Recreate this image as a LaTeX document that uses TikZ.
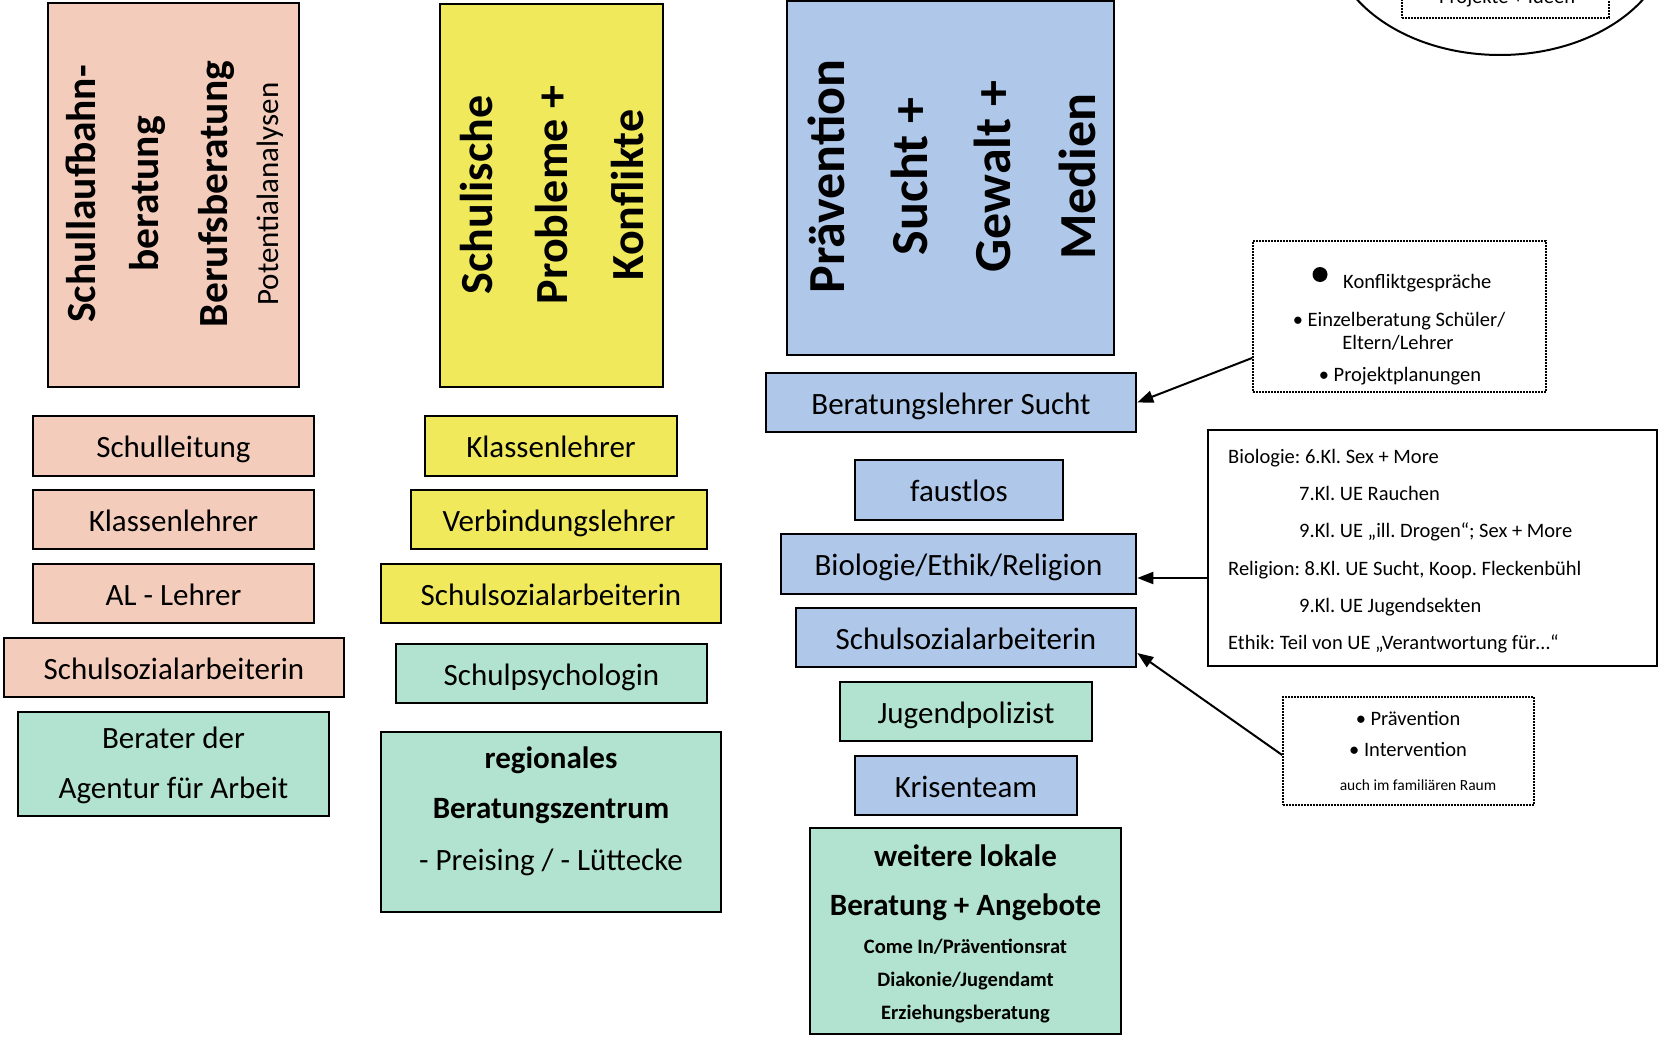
\documentclass[tikz,border=0pt]{standalone}
\usepackage{fontspec}
\setmainfont{Carlito}
\usetikzlibrary{arrows.meta,shapes.geometric}
\definecolor{pinkc}{RGB}{244,204,188}
\definecolor{yellowc}{RGB}{240,233,92}
\definecolor{bluec}{RGB}{175,199,232}
\definecolor{greenc}{RGB}{178,227,209}
\frenchspacing
\begin{document}
\begin{tikzpicture}[x=1pt,y=-1pt,
  box/.style={draw=black, line width=2.5pt, inner sep=0pt, text height=25pt, text depth=2pt,
              font=\fontsize{31}{37}\selectfont},
  pk/.style={box, fill=pinkc},
  yl/.style={box, fill=yellowc},
  bl/.style={box, fill=bluec},
  gr/.style={box, fill=greenc},
  rot/.style={rotate=90, anchor=base, inner sep=0pt},
  ttlp/.style={rot, font=\bfseries\fontsize{41.5}{49}\selectfont},
  ttly/.style={rot, font=\bfseries\fontsize{46}{55}\selectfont},
  ttlb/.style={rot, font=\bfseries\fontsize{52}{62}\selectfont},
  txt/.style={anchor=base, inner sep=0pt, font=\fontsize{31}{37}\selectfont},
  txtb/.style={anchor=base, inner sep=0pt, font=\bfseries\fontsize{31}{37}\selectfont},
  sm/.style={anchor=base, inner sep=0pt, font=\fontsize{20.5}{24}\selectfont},
  smb/.style={anchor=base, inner sep=0pt, font=\bfseries\fontsize{20.5}{24}\selectfont},
  rl/.style={anchor=base west, inner sep=0pt, font=\fontsize{20.5}{24}\selectfont},
  dotbox/.style={draw=black, line width=1.8pt, dash pattern=on 1.6pt off 1.4pt, inner sep=0pt},
  arr/.style={line width=2pt, -{Triangle[length=16pt,width=12pt]}}
]
\useasboundingbox (0,0) rectangle (1661,1036);
\clip (0,0) rectangle (1661,1036);

% ---------- pink column ----------
\node[pk, minimum width=251pt, minimum height=384pt] (p0) at (173.5,195) {};
\node[ttlp] (p0a) at (95,194) {Schullaufbahn-};
\node[ttlp] (p0b) at (158,194) {beratung};
\node[ttlp] (p0c) at (227,194) {Berufsberatung};
\node[rot, font=\fontsize{31}{37}\selectfont] (p0d) at (278,194) {Potentialanalysen};

\node[pk, minimum width=281pt, minimum height=60pt] (p1) at (173.5,446) {Schulleitung};
\node[pk, minimum width=281pt, minimum height=59pt] (p2) at (173.5,519.5) {Klassenlehrer};
\node[pk, minimum width=281pt, minimum height=59pt] (p3) at (173.5,593.5) {AL - Lehrer};
\node[pk, minimum width=340pt, minimum height=59pt] (p4) at (174,667.5) {Schulsozialarbeiterin};
\node[gr, minimum width=311pt, minimum height=104pt] (g1) at (173.5,764) {};
\node[txt] (g1a) at (173.5,748) {Berater der};
\node[txt] (g1b) at (173.5,798) {Agentur für Arbeit};

% ---------- yellow column ----------
\node[yl, minimum width=223pt, minimum height=383pt] (y0) at (551.5,195.5) {};
\node[ttly] (y0a) at (492,195) {Schulische};
\node[ttly] (y0b) at (567,195) {Probleme +};
\node[ttly] (y0c) at (643,195) {Konflikte};

\node[yl, minimum width=252pt, minimum height=60pt] (y1) at (551,446) {Klassenlehrer};
\node[yl, minimum width=296pt, minimum height=59pt] (y2) at (559,519.5) {Verbindungslehrer};
\node[yl, minimum width=340pt, minimum height=59pt] (y3) at (551,593.5) {Schulsozialarbeiterin};
\node[gr, minimum width=311pt, minimum height=59pt] (g2) at (551.5,673.5) {Schulpsychologin};
\node[gr, minimum width=340pt, minimum height=180pt] (g3) at (551,822) {};
\node[txtb] (g3a) at (551,768) {regionales};
\node[txtb] (g3b) at (551,818) {Beratungszentrum};
\node[txt] (g3c) at (551,870) {- Preising / - Lüttecke};

% ---------- blue column ----------
\node[bl, minimum width=327pt, minimum height=354pt] (b0) at (950.5,178) {};
\node[ttlb] (b0a) at (844,176.5) {Prävention};
\node[ttlb] (b0b) at (927,176.5) {Sucht +};
\node[ttlb] (b0c) at (1010,176.5) {Gewalt +};
\node[ttlb] (b0d) at (1095,176.5) {Medien};

\node[bl, minimum width=370pt, minimum height=59pt] (b1) at (951,402.5) {Beratungslehrer Sucht};
\node[bl, minimum width=208pt, minimum height=60pt] (b2) at (959,490) {faustlos};
\node[bl, minimum width=355pt, minimum height=60pt] (b3) at (958.5,564) {Biologie/Ethik/Religion};
\node[bl, minimum width=340pt, minimum height=59pt] (b4) at (966,637.5) {Schulsozialarbeiterin};
\node[gr, minimum width=252pt, minimum height=59pt] (g4) at (966,711.5) {Jugendpolizist};
\node[bl, minimum width=222pt, minimum height=59pt] (b5) at (966,785.5) {Krisenteam};
\node[gr, minimum width=311pt, minimum height=206pt] (g5) at (965.5,931) {};
\node[txtb] (g5a) at (965.5,866) {weitere lokale};
\node[txtb] (g5b) at (965.5,915) {Beratung + Angebote};
\node[smb] (g5c) at (965.5,953) {Come In/Präventionsrat};
\node[smb] (g5d) at (965.5,986) {Diakonie/Jugendamt};
\node[smb] (g5e) at (965.5,1019) {Erziehungsberatung};

% ---------- right side ----------
\node[ellipse, draw=black, line width=2pt, minimum width=340pt, minimum height=242pt, inner sep=0pt] (ell) at (1500,-66) {};
\node[dotbox, minimum width=207pt, minimum height=80pt] (pib) at (1505.5,-22) {};
\node[sm] (pit) at (1507,3) {Projekte + Ideen};

\node[dotbox, minimum width=293pt, minimum height=151pt] (d1) at (1399.5,316.5) {};
\fill (1320,274.5) circle[radius=7.5pt];
\node[anchor=base west, inner sep=0pt, font=\fontsize{20.5}{24}\selectfont] (d1a) at (1343,288) {Konfliktgespräche};
\node[sm] (d1b) at (1399,326) {• Einzelberatung Schüler/};
\node[sm] (d1c) at (1398,349) {Eltern/Lehrer};
\node[sm] (d1d) at (1400,381) {• Projektplanungen};

\node[draw=black, line width=2pt, minimum width=449pt, minimum height=236pt, inner sep=0pt] (rbox) at (1432.5,548) {};
\node[rl] (r1) at (1228,463) {Biologie: 6.Kl. Sex + More};
\node[rl] (r2) at (1299,500) {7.Kl. UE Rauchen};
\node[rl] (r3) at (1299,537) {9.Kl. UE „ill. Drogen“; Sex + More};
\node[rl] (r4) at (1228,575) {Religion: 8.Kl. UE Sucht, Koop. Fleckenbühl};
\node[rl] (r5) at (1299,612) {9.Kl. UE Jugendsekten};
\node[rl] (r6) at (1228,649) {Ethik: Teil von UE „Verantwortung für…“};

\node[dotbox, minimum width=251pt, minimum height=108pt] (d2) at (1408.5,751) {};
\node[sm] (d2a) at (1408,725) {• Prävention};
\node[sm] (d2b) at (1408,756) {• Intervention};
\node[anchor=base, inner sep=0pt, font=\fontsize{15.5}{18}\selectfont] (d2c) at (1418,790) {auch im familiären Raum};

% ---------- connectors ----------
\draw[arr] (d1.west |- 0,358) -- (b1.east);
\draw[arr] (rbox.west |- 0,578) -- (b3.east |- 0,578);
\draw[arr] (d2.west |- 0,755) -- (b4.east |- 0,653);
\end{tikzpicture}
\end{document}
